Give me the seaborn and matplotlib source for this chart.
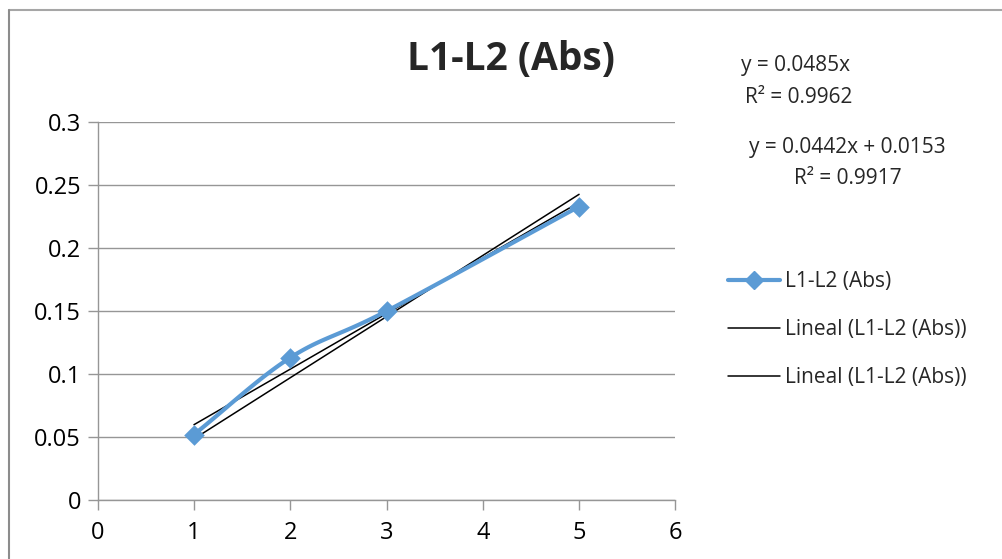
import matplotlib
matplotlib.use('Agg')
import matplotlib.pyplot as plt
from matplotlib.lines import Line2D
import numpy as np
import pandas as pd
import seaborn as sns

# data
x_vals = [1, 2, 3, 5]
y_vals = [0.052, 0.113, 0.150, 0.233]
series_name = 'L1-L2 (Abs)'
trend_label = 'Lineal (L1-L2 (Abs))'
eq_origin = ['y = 0.0485x', 'R² = 0.9962']
eq_linear = ['y = 0.0442x + 0.0153', 'R² = 0.9917']
x_ticks = [0, 1, 2, 3, 4, 5, 6]
y_ticks = [0, 0.05, 0.1, 0.15, 0.2, 0.25, 0.3]
y_ticklabels = ['0', '0.05', '0.1', '0.15', '0.2', '0.25', '0.3']

blue = '#5B9BD5'
grid_gray = '#969696'

sns.set_theme(style='white')
plt.rcParams['font.family'] = ['Open Sans', 'DejaVu Sans']

df = pd.DataFrame({'x': x_vals, 'y': y_vals})


def smooth_path(xs, ys, n=40):
    # Catmull-Rom style curve through the points, like Excel's smoothed line
    xs = np.asarray(xs, float)
    ys = np.asarray(ys, float)
    px = np.concatenate([[2 * xs[0] - xs[1]], xs, [2 * xs[-1] - xs[-2]]])
    py = np.concatenate([[2 * ys[0] - ys[1]], ys, [2 * ys[-1] - ys[-2]]])
    out_x, out_y = [], []
    t = np.linspace(0, 1, n)
    for i in range(1, len(px) - 2):
        c1x = px[i] + (px[i + 1] - px[i - 1]) / 6
        c1y = py[i] + (py[i + 1] - py[i - 1]) / 6
        c2x = px[i + 1] - (px[i + 2] - px[i]) / 6
        c2y = py[i + 1] - (py[i + 2] - py[i]) / 6
        bx = ((1 - t) ** 3) * px[i] + 3 * ((1 - t) ** 2) * t * c1x + 3 * (1 - t) * t ** 2 * c2x + t ** 3 * px[i + 1]
        by = ((1 - t) ** 3) * py[i] + 3 * ((1 - t) ** 2) * t * c1y + 3 * (1 - t) * t ** 2 * c2y + t ** 3 * py[i + 1]
        out_x.extend(bx)
        out_y.extend(by)
    return np.array(out_x), np.array(out_y)


fig = plt.figure(figsize=(10.02, 5.59), dpi=100)
ax = fig.add_axes([0.0975, 0.1055, 0.5765, 0.676])

# chart border (top and left visible)
fig.add_artist(Line2D([0.0085, 1.0], [0.9825, 0.9825], color='#a6a6a6', lw=1.5))
fig.add_artist(Line2D([0.0085, 0.0085], [0.0, 0.9825], color='#8c8c8c', lw=1.5))

# trendlines, fitted from the data
xs = np.array([min(x_vals), max(x_vals)], float)
xa = np.array(x_vals, float)
ya = np.array(y_vals, float)
k0 = (xa * ya).sum() / (xa * xa).sum()
k1, b1 = np.polyfit(xa, ya, 1)
ax.plot(xs, k0 * xs, color='black', lw=1.1, zorder=3)
ax.plot(xs, k1 * xs + b1, color='black', lw=1.1, zorder=3)

sx, sy = smooth_path(x_vals, y_vals)
ax.plot(sx, sy, color=blue, lw=3, zorder=4, solid_capstyle='round')
sns.scatterplot(data=df, x='x', y='y', marker='D', s=110, color=blue,
                edgecolor=blue, linewidth=0, ax=ax, zorder=5, legend=False)

ax.set_xlim(0, 6)
ax.set_ylim(0, 0.3)
ax.set_xticks(x_ticks)
ax.set_yticks(y_ticks)
ax.set_yticklabels(y_ticklabels)
ax.set_xlabel('')
ax.set_ylabel('')
ax.yaxis.grid(True, color=grid_gray, lw=1)
ax.xaxis.grid(False)
ax.set_axisbelow(True)
for side in ['top', 'right']:
    ax.spines[side].set_visible(False)
for side in ['left', 'bottom']:
    ax.spines[side].set_color(grid_gray)
    ax.spines[side].set_linewidth(1)
ax.tick_params(axis='both', which='both', length=7, width=1, color=grid_gray,
               direction='out', labelsize=17, labelcolor='black')
ax.tick_params(axis='x', pad=8, bottom=True)
ax.tick_params(axis='y', pad=5, left=True)

fig.text(0.510, 0.893, series_name, ha='center', va='center',
         fontsize=28, fontweight='bold')

fig.text(0.794, 0.882, eq_origin[0], ha='center', va='center', fontsize=15)
fig.text(0.797, 0.825, eq_origin[1], ha='center', va='center', fontsize=15)
fig.text(0.846, 0.737, eq_linear[0], ha='center', va='center', fontsize=15)
fig.text(0.846, 0.680, eq_linear[1], ha='center', va='center', fontsize=15)

handles = [
    Line2D([0], [0], color=blue, lw=3, marker='D', markersize=9),
    Line2D([0], [0], color='black', lw=1.1),
    Line2D([0], [0], color='black', lw=1.1),
]
fig.legend(handles, [series_name, trend_label, trend_label],
           loc='center left', bbox_to_anchor=(0.708, 0.410), frameon=False,
           fontsize=15, handlelength=2.5, handletextpad=0.25, labelspacing=1.3)

fig.savefig('out.png', dpi=100)
